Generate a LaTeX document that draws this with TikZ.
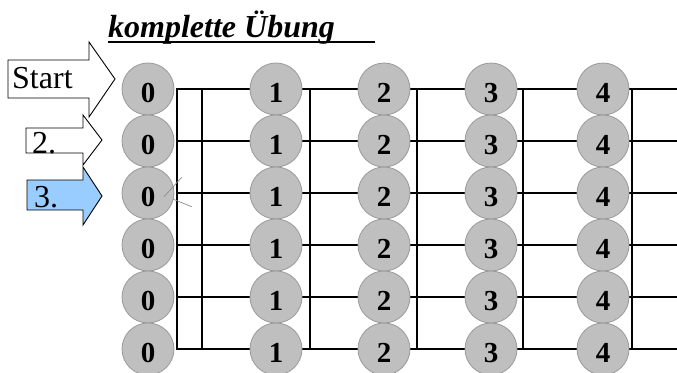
\documentclass[tikz,border=0pt]{standalone}
\usepackage{fontspec}
\setmainfont{Liberation Serif}
\begin{document}
\begin{tikzpicture}[x=1pt,y=-1pt,
  string/.style={line width=1.8pt,line cap=rect},
  fret/.style={line width=1.8pt,line cap=rect},
  ball/.style={circle,draw=black!40,line width=0.8pt,fill=black!25,
    minimum size=52pt,inner sep=0pt,text height=27pt,text depth=0pt,
    font=\fontsize{29}{29}\selectfont\bfseries},
  pointer/.style={draw=black,line width=0.9pt,line join=miter},
  tag/.style={anchor=base west,inner sep=0pt,font=\fontsize{32}{32}\selectfont}]
\definecolor{lightblue}{HTML}{99CCFF}
\useasboundingbox (0,0) rectangle (677,372);

% title
\node[anchor=base west,inner sep=0pt,font=\fontsize{32}{32}\selectfont\bfseries\itshape]
  (title) at (108,37) {komplette Übung};
\coordinate (ul-a) at (108,42);
\coordinate (ul-b) at (375,42);
\draw[line width=2pt] (ul-a) -- (ul-b);

% strings and frets
\foreach \r in {1,...,6} {
  \coordinate (s-\r) at (177,{89+52*(\r-1)});
  \coordinate (e-\r) at (677,{89+52*(\r-1)});
  \draw[string] (s-\r) -- (e-\r);
}
\foreach \x [count=\j] in {177,202,310,417,523,632} {
  \coordinate (ft-\j) at (\x,89);
  \coordinate (fb-\j) at (\x,349);
  \draw[fret] (ft-\j) -- (fb-\j);
}

% finger positions
\foreach \r in {1,...,6} {
  \foreach \x [count=\k from 0] in {148,276,384,491,603} {
    \node[ball] (b-\r-\k) at (\x,{89+52*(\r-1)}) {\k};
  }
}

% small pencil mark beside the third string
\draw[black!45,line width=0.7pt] (181.7,177.3) -- (164,196.7);
\draw[black!45,line width=0.7pt] (173.3,199.3) -- (191.7,206.7);

% pointers
\draw[pointer,fill=white] (8,60) -- (89,60) -- (89,42) -- (115,79) -- (89,117)
  -- (89,98) -- (8,98) -- cycle;
\node[tag] (start) at (12,88) {Start};
\draw[pointer,fill=white] (26,128) -- (83,128) -- (83,115) -- (102,140) -- (83,165)
  -- (83,153) -- (26,153) -- cycle;
\node[tag] (second) at (32,153) {2.};
\draw[pointer,fill=lightblue] (27,180) -- (83,180) -- (83,167) -- (102,196) -- (83,225)
  -- (83,210) -- (27,210) -- cycle;
\node[tag] (third) at (34,207) {3.};
\end{tikzpicture}
\end{document}
